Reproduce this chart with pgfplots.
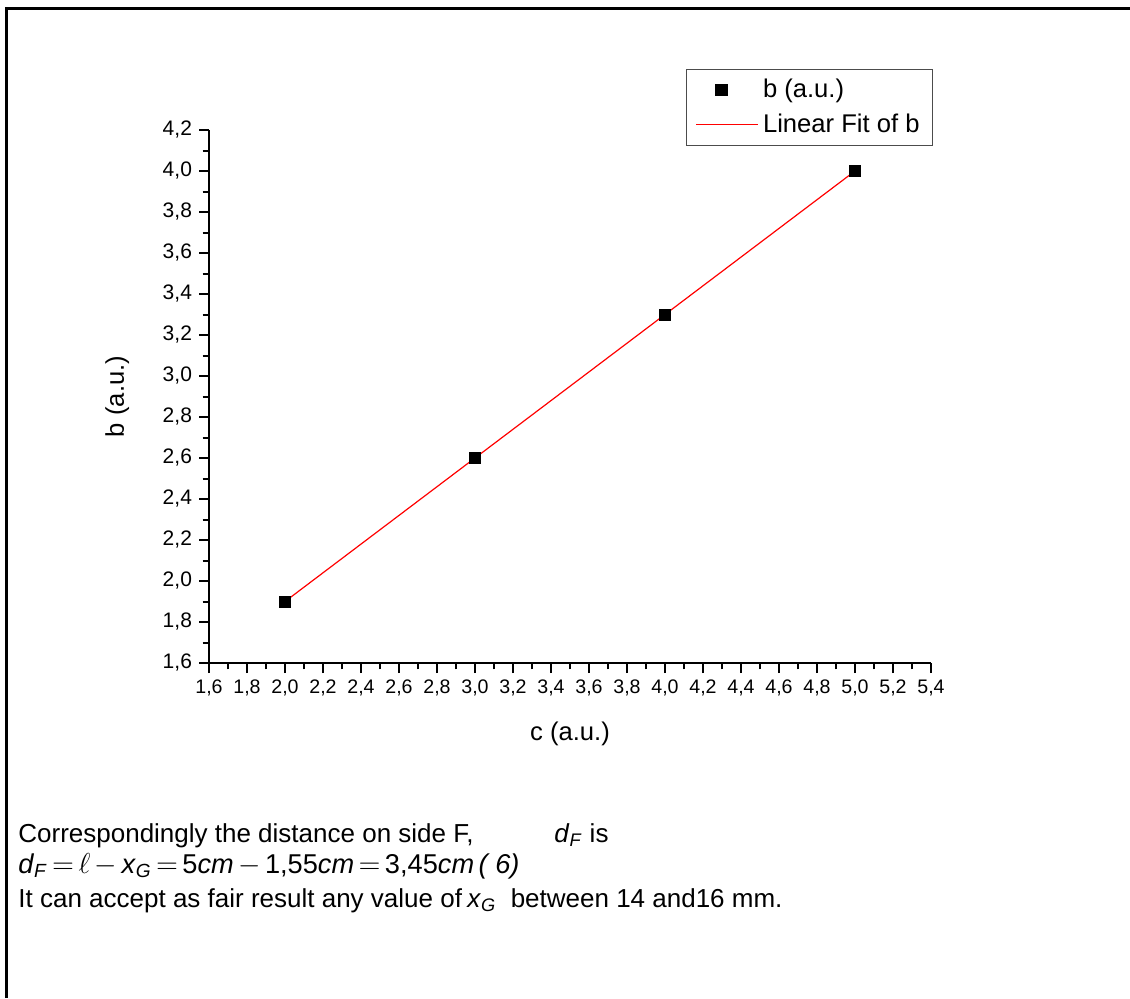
\documentclass[border=0pt]{standalone}
\usepackage{pgfplots}
\pgfplotsset{compat=1.18}
\usepackage{fontspec}
\setmainfont{Liberation Sans}
\pgfplotsset{
  markleg/.style={legend image code/.code={\path (0pt,0pt) (31pt,0pt); \path[##1,draw=none] plot coordinates {(12.5pt,0pt)};}},
  lineleg/.style={legend image code/.code={\draw[##1] (0pt,0pt) -- (31pt,0pt);}},
}
\newcommand{\op}[1]{\hspace{2.2pt}$#1$\hspace{2.2pt}}
\begin{document}
\begin{tikzpicture}[x=1pt,y=1pt]
\path[use as bounding box] (0,0) rectangle (565,499);
\draw[line width=1.5pt] (3,0) -- (3,494.5) -- (565,494.5);
\begin{axis}[
  at={(104.5pt,167.5pt)}, anchor=south west,
  scale only axis, width=361pt, height=266.5pt,
  xmin=1.6, xmax=5.4, ymin=1.6, ymax=4.2,
  axis x line*=bottom, axis y line*=left,
  xtick={1.6,1.8,2.0,2.2,2.4,2.6,2.8,3.0,3.2,3.4,3.6,3.8,4.0,4.2,4.4,4.6,4.8,5.0,5.2,5.4},
  ytick={1.6,1.8,2.0,2.2,2.4,2.6,2.8,3.0,3.2,3.4,3.6,3.8,4.0,4.2},
  minor x tick num=1, minor y tick num=1,
  tick align=outside,
  major tick length=5pt, minor tick length=3.2pt,
  every tick/.style={black, line width=1pt},
  axis line style={line width=1pt},
  /pgf/number format/use comma,
  /pgf/number format/fixed,
  /pgf/number format/fixed zerofill,
  /pgf/number format/precision=1,
  /pgf/number format/assume math mode=true,
  xticklabel style={font=\fontsize{9.8}{11}\selectfont},
  yticklabel style={font=\fontsize{10.5}{12}\selectfont},
  xlabel={c (a.u.)}, ylabel={b (a.u.)},
  label style={font=\fontsize{12.8}{15}\selectfont},
  xlabel style={at={(axis description cs:0.5,0)}, anchor=base, yshift=-38.5pt},
  ylabel style={at={(axis description cs:0,0.5)}, anchor=base, yshift=42.5pt},
  legend style={at={(1.003,1.114)}, anchor=north east, draw=black!70, line width=0.6pt,
    font=\fontsize{12.8}{15}\selectfont, cells={anchor=west},
    inner xsep=4.5pt, inner ysep=2.8pt, row sep=2.5pt},
]
\addplot[only marks, mark=square*, mark size=2.75pt, black, markleg]
  coordinates {(2,1.9) (3,2.6) (4,3.3) (5,4.0)};
\addlegendentry{b (a.u.)}
\addplot[red, line width=0.6pt, lineleg]
  coordinates {(2,1.9) (5,4.0)};
\addlegendentry{Linear Fit of b}
\end{axis}
\begin{scope}[every node/.style={anchor=base west, inner sep=0pt, font=\fontsize{13}{15}\selectfont}]
\node at (9,78) {Correspondingly the distance on side F,};
\node at (277,78) {\textit{d}\textsubscript{\textit{F}} is};
\node[font=\fontsize{13.6}{15}\selectfont] at (9,62.5) {\textit{d}\textsubscript{\textit{F}}\op{=}$\ell$\op{-}\textit{x}\textsubscript{\textit{G}}\op{=}5\textit{cm}\op{-}1,55\textit{cm}\op{=}3,45\textit{cm}\,\textit{( 6)}};
\node at (9,45.5) {It can accept as fair result any value of};
\node at (233.5,45.5) {\textit{x}\textsubscript{\textit{G}}\ \ between 14 and16 mm.};
\end{scope}
\end{tikzpicture}
\end{document}
